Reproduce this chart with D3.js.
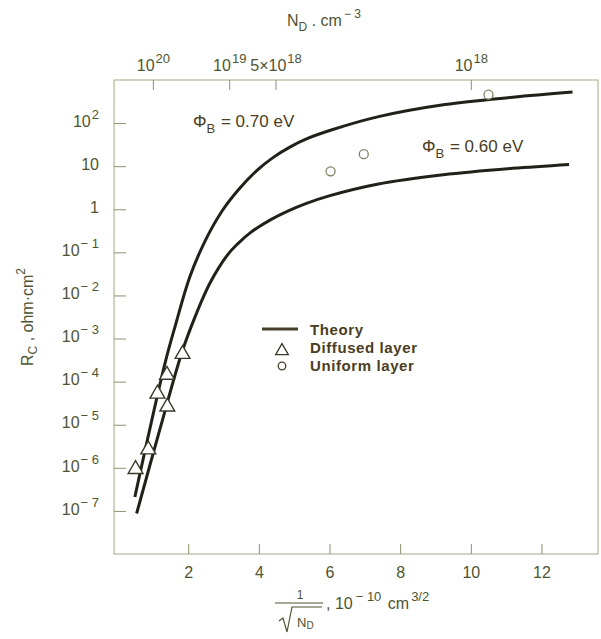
<!DOCTYPE html>
<html><head><meta charset="utf-8">
<script src="https://cdn.jsdelivr.net/npm/d3@7"></script>
<style>body{margin:0;background:#fff}svg{display:block}text{font-family:"Liberation Sans",Arial,sans-serif}</style>
</head><body>
<svg id="c" width="601" height="639"></svg>
<script>
// ---- data ----
const xTicks = [2, 4, 6, 8, 10, 12];
const yTickExps = [2, 1, 0, -1, -2, -3, -4, -5, -6, -7];
const topTickPos = [1, 3.162, 4.472, 10];
const topTickBase = ["10", "10", "5\u00d710", "10"];
const topTickExp = ["20", "19", "18", "18"];
// theory curves (x in 1e-10 cm^3/2, R in ohm.cm^2)
const phi070X = [0.49, 1.35, 1.65, 2.05, 2.47, 2.95, 3.44, 3.94, 4.40, 4.89, 5.38, 6.05, 7.39, 9.27, 11.18, 12.88];
const phi070R = [2.1e-7, 2.8e-4, 2.2e-3, 2.75e-2, 0.178, 0.89, 2.95, 7.9, 15.8, 28, 44, 69, 141, 269, 398, 525];
const phi060X = [0.54, 1.20, 1.83, 2.22, 2.61, 3.12, 3.40, 3.78, 4.34, 4.85, 5.33, 5.99, 7.35, 9.22, 11.18, 12.78];
const phi060R = [8.7e-8, 7.9e-6, 5.0e-4, 3.6e-3, 1.9e-2, 8.9e-2, 0.158, 0.295, 0.575, 0.93, 1.35, 2.04, 3.8, 6.3, 8.9, 11];
// measured
const diffusedX = [0.51, 0.87, 1.13, 1.40, 1.41, 1.84];
const diffusedR = [9.8e-7, 2.8e-6, 5.5e-5, 1.5e-4, 2.75e-5, 4.6e-4];
const uniformX = [6.03, 6.97, 10.5];
const uniformR = [7.6, 19, 457];

const svg = d3.select("#c");
const L = 114, R = 598, T = 80, B = 554;
const x = d3.scaleLinear().domain([-0.1, 13.6]).range([L, R]);
const y = d3.scaleLog().domain([1e-8, 1e3]).range([B, T]);

const axisCol = "#8d9070", textCol = "#4e5432", legCol = "#4a3d22", curveCol = "#1f2218";

// frame
svg.append("rect").attr("x", L).attr("y", T).attr("width", R - L).attr("height", B - T)
  .attr("fill", "none").attr("stroke", "#b3b697").attr("stroke-width", 1.2);

function sup(sel, base, exp, size, supSize) {
  sel.text(null);
  sel.append("tspan").text(base).attr("font-size", size);
  if (exp) sel.append("tspan").text(exp).attr("font-size", supSize).attr("dy", -size * 0.5).attr("dx", 1);
}

// bottom axis
const gx = svg.append("g").attr("transform", `translate(0,${B})`)
  .call(d3.axisBottom(x).tickValues(xTicks).tickSizeInner(-10).tickSizeOuter(0).tickPadding(13));
gx.select(".domain").remove();
gx.selectAll("line").attr("stroke", axisCol);
gx.selectAll("text").attr("fill", textCol).attr("font-size", 16).attr("font-family", "Liberation Sans, Arial");

// left axis
const gy = svg.append("g").attr("transform", `translate(${L},0)`)
  .call(d3.axisLeft(y).tickValues(yTickExps.map(e => Math.pow(10, e))).tickSizeInner(-12).tickSizeOuter(0).tickPadding(15));
gy.select(".domain").remove();
gy.selectAll("line").attr("stroke", axisCol);
gy.selectAll("text").attr("fill", textCol).attr("font-family", "Liberation Sans, Arial")
  .each(function(d) {
    const e = Math.round(Math.log10(d));
    const s = d3.select(this);
    if (e === 0) sup(s, "1", null, 16, 13);
    else if (e === 1) sup(s, "10", null, 16, 13);
    else sup(s, "10", e < 0 ? "\u2212 " + (-e) : String(e), 16, 13);
  });

// top axis
const gt = svg.append("g").attr("transform", `translate(0,${T})`)
  .call(d3.axisTop(x).tickValues(topTickPos).tickSizeInner(-10).tickSizeOuter(0).tickPadding(9));
gt.select(".domain").remove();
gt.selectAll("line").attr("stroke", axisCol);
gt.selectAll("text").attr("fill", textCol).attr("font-family", "Liberation Sans, Arial")
  .each(function(d, i) { sup(d3.select(this), topTickBase[i], topTickExp[i], 16, 13); });

// top title
const tt = svg.append("text").attr("x", 287).attr("y", 26).attr("fill", textCol).attr("font-size", 16);
tt.append("tspan").text("N");
tt.append("tspan").text("D").attr("font-size", 12).attr("dy", 5);
tt.append("tspan").text(" .  cm").attr("dy", -5);
tt.append("tspan").text("\u2212 3").attr("font-size", 12).attr("dy", -8).attr("dx", 2);

// y title
const yt = svg.append("text").attr("transform", "translate(33,317) rotate(-90)")
  .attr("text-anchor", "middle").attr("fill", textCol).attr("font-size", 16);
yt.append("tspan").text("R");
yt.append("tspan").text("C").attr("font-size", 12).attr("dy", 4);
yt.append("tspan").text(" ,  ohm\u00b7cm").attr("dy", -4);
yt.append("tspan").text("2").attr("font-size", 12).attr("dy", -8);

// x title
const xtG = svg.append("g").attr("fill", textCol);
xtG.append("text").attr("x", 300).attr("y", 599).attr("text-anchor", "middle").attr("font-size", 12).text("1");
xtG.append("line").attr("x1", 275).attr("x2", 323).attr("y1", 603).attr("y2", 603).attr("stroke", textCol).attr("stroke-width", 1);
xtG.append("path").attr("d", "M279,621 L283,618 L287,632 L292,607 L322,607").attr("fill", "none").attr("stroke", textCol).attr("stroke-width", 1.2);
const nd = xtG.append("text").attr("x", 297).attr("y", 627).attr("font-size", 13);
nd.append("tspan").text("N");
nd.append("tspan").text("D").attr("font-size", 10).attr("dy", 2);
const xt2 = xtG.append("text").attr("x", 326).attr("y", 609).attr("font-size", 16);
xt2.append("tspan").text(",  10");
xt2.append("tspan").text("\u2212 10").attr("font-size", 13).attr("dy", -8).attr("dx", 3);
xt2.append("tspan").text(" cm").attr("dy", 8).attr("dx", 2);
xt2.append("tspan").text("3/2").attr("font-size", 13).attr("dy", -8).attr("dx", 2);

// curves
const line = d3.line().x(d => x(d[0])).y(d => y(d[1])).curve(d3.curveCatmullRom.alpha(0.5));
[[phi070X, phi070R], [phi060X, phi060R]].forEach(([xs, rs]) => {
  svg.append("path").datum(xs.map((v, i) => [v, rs[i]])).attr("d", line)
    .attr("fill", "none").attr("stroke", curveCol).attr("stroke-width", 3);
});

// triangles
const tri = d3.symbol().type(d3.symbolTriangle).size(95);
svg.append("g").selectAll("path").data(diffusedX.map((v, i) => [v, diffusedR[i]])).join("path")
  .attr("d", tri).attr("transform", d => `translate(${x(d[0])},${y(d[1]) + 1})`)
  .attr("fill", "#fff").attr("stroke", "#3a3a2a").attr("stroke-width", 1.4);

// circles
svg.append("g").selectAll("circle").data(uniformX.map((v, i) => [v, uniformR[i]])).join("circle")
  .attr("cx", d => x(d[0])).attr("cy", d => y(d[1])).attr("r", 4.5)
  .attr("fill", "#fff").attr("stroke", "#7e8462").attr("stroke-width", 1.3);

// curve labels
function phiLabel(px, py, val) {
  const t = svg.append("text").attr("x", px).attr("y", py).attr("fill", legCol).attr("font-size", 17);
  t.append("tspan").text("\u03a6");
  t.append("tspan").text("B").attr("font-size", 13).attr("dy", 6);
  t.append("tspan").text(" = " + val).attr("dy", -6).attr("dx", 1);
}
phiLabel(193, 127, "0.70 eV");
phiLabel(422, 152, "0.60 eV");

// legend
const lg = svg.append("g");
lg.append("line").attr("x1", 262).attr("x2", 298).attr("y1", 329).attr("y2", 329).attr("stroke", "#4a3f2c").attr("stroke-width", 3);
lg.append("path").attr("d", d3.symbol().type(d3.symbolTriangle).size(70)).attr("transform", "translate(282,351)").attr("fill", "#fff").attr("stroke", "#3a3a2a").attr("stroke-width", 1.3);
lg.append("circle").attr("cx", 282).attr("cy", 366).attr("r", 3.8).attr("fill", "#fff").attr("stroke", "#4a3f2c").attr("stroke-width", 1.3);
const legTexts = ["Theory", "Diffused layer", "Uniform layer"];
lg.selectAll("text").data(legTexts).join("text")
  .attr("x", 310).attr("y", (d, i) => 335 + i * 18).attr("fill", legCol).attr("font-size", 15)
  .attr("font-weight", "bold").attr("letter-spacing", 0.6).text(d => d);
</script>
</body></html>
